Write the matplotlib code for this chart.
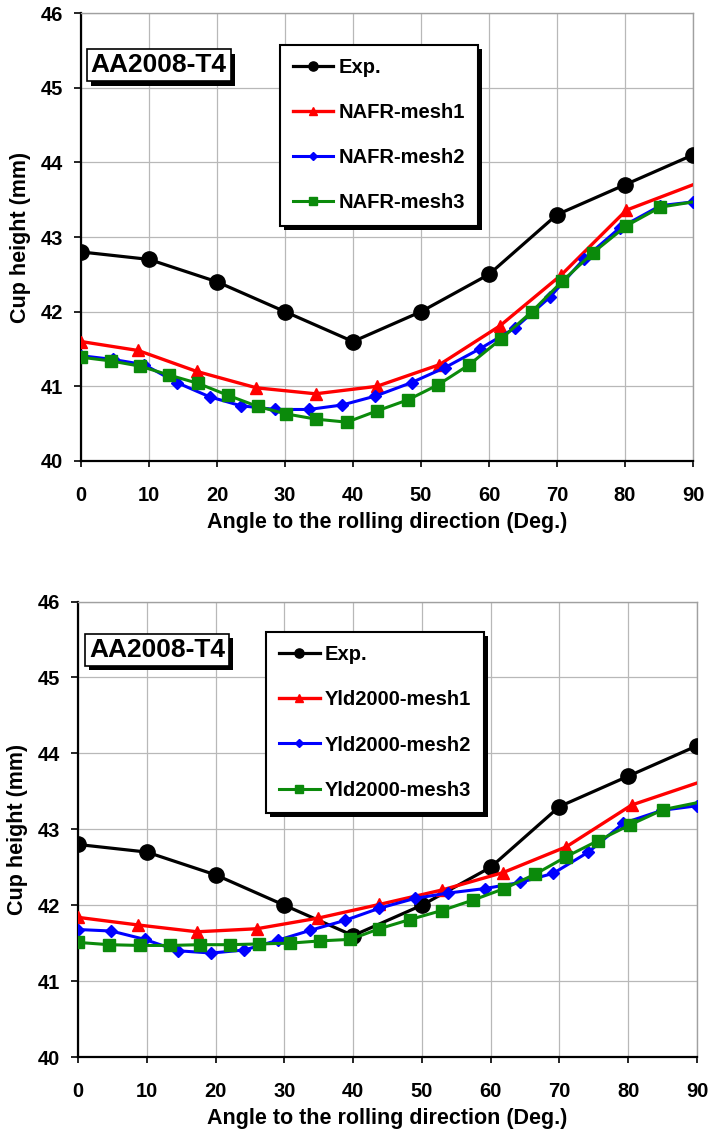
# Cup height vs. angle to the rolling direction, AA2008-T4 (NAFR / Yld2000 meshes)
import matplotlib
matplotlib.use("Agg")
import matplotlib.pyplot as plt
import matplotlib.patheffects as pe

plt.rcParams["font.family"] = ["Liberation Sans", "DejaVu Sans"]
plt.rcParams["font.weight"] = "bold"
plt.rcParams["axes.labelweight"] = "bold"

# ---- data ----
exp_x = [0, 10, 20, 30, 40, 50, 60, 70, 80, 90]
exp_y = [42.8, 42.7, 42.4, 42.0, 41.6, 42.0, 42.5, 43.3, 43.7, 44.1]

nafr1_x = [0, 8.4, 17.0, 25.8, 34.5, 43.5, 52.7, 61.6, 70.6, 80.2, 90]
nafr1_y = [41.6, 41.48, 41.2, 40.98, 40.9, 41.0, 41.29, 41.81, 42.49, 43.36, 43.7]
nafr2_x = [0, 4.7, 9.3, 14.1, 18.9, 23.5, 28.6, 33.5, 38.4, 43.3, 48.6, 53.5,
           58.6, 63.8, 68.9, 74.0, 79.2, 85.2, 90]
nafr2_y = [41.41, 41.36, 41.29, 41.05, 40.86, 40.74, 40.69, 40.69, 40.75, 40.87,
           41.05, 41.25, 41.5, 41.78, 42.19, 42.71, 43.12, 43.42, 43.47]
nafr3_x = [0, 4.4, 8.7, 13.0, 17.2, 21.6, 26.0, 30.2, 34.6, 39.1, 43.5, 48.1,
           52.5, 57.1, 61.7, 66.3, 70.8, 75.3, 80.2, 85.2, 90]
nafr3_y = [41.39, 41.34, 41.27, 41.15, 41.04, 40.88, 40.73, 40.63, 40.56, 40.52,
           40.67, 40.82, 41.02, 41.29, 41.63, 42.0, 42.41, 42.79, 43.15, 43.4, 43.47]

yld1_x = [0, 8.7, 17.3, 26.0, 34.9, 43.8, 52.9, 61.8, 71.0, 80.5, 90]
yld1_y = [41.84, 41.74, 41.65, 41.69, 41.83, 42.01, 42.2, 42.43, 42.77, 43.32, 43.61]
yld2_x = [0, 4.85, 9.7, 14.5, 19.4, 24.2, 29.1, 33.8, 38.8, 43.8, 49.0, 53.8,
          59.2, 64.3, 69.1, 74.2, 79.3, 84.9, 90]
yld2_y = [41.68, 41.66, 41.55, 41.40, 41.37, 41.41, 41.54, 41.67, 41.80, 41.96,
          42.09, 42.16, 42.22, 42.30, 42.42, 42.70, 43.08, 43.25, 43.31]
yld3_x = [0, 4.5, 9.0, 13.3, 17.7, 22.1, 26.3, 30.8, 35.2, 39.6, 43.8, 48.2,
          52.9, 57.5, 62.0, 66.5, 71.0, 75.6, 80.3, 85.1, 90]
yld3_y = [41.51, 41.48, 41.47, 41.47, 41.48, 41.48, 41.49, 41.50, 41.53, 41.55,
          41.69, 41.81, 41.93, 42.07, 42.22, 42.41, 42.64, 42.85, 43.06, 43.26, 43.35]

x_ticks = list(range(0, 91, 10))
y_ticks = list(range(40, 47))
material = "AA2008-T4"
xlabel = "Angle to the rolling direction (Deg.)"
ylabel = "Cup height (mm)"

RED, BLUE, GREEN = "#ff0000", "#0000ff", "#0b8a0b"

# black drop shadow (offset in points) for the framed boxes
drop_shadow = [pe.SimplePatchShadow(offset=(3, -3), shadow_rgbFace="black",
                                    alpha=1.0), pe.Normal()]


def panel(fig, rect, series, leg_anchor, tag_pos):
    ax = fig.add_axes(rect)
    ax.plot(exp_x, exp_y, color="black", lw=2.3, marker="o", ms=11,
            label="Exp.", zorder=3)
    (x1, y1, l1), (x2, y2, l2), (x3, y3, l3) = series
    ax.plot(x1, y1, color=RED, lw=2.4, marker="^", ms=9,
            markevery=slice(0, len(x1) - 1), label=l1, zorder=4)
    ax.plot(x2, y2, color=BLUE, lw=2.2, marker="D", ms=6.5,
            label=l2, zorder=5)
    ax.plot(x3, y3, color=GREEN, lw=2.2, marker="s", ms=9,
            markevery=slice(0, len(x3) - 1), label=l3, zorder=6)

    ax.set_xlim(0, 90)
    ax.set_ylim(40, 46)
    ax.set_xticks(x_ticks)
    ax.set_yticks(y_ticks)
    ax.grid(True, color="#b8b8b8", lw=0.9)
    ax.set_axisbelow(True)
    for s in ("left", "bottom"):
        ax.spines[s].set_color("black")
        ax.spines[s].set_linewidth(1.6)
    for s in ("top", "right"):
        ax.spines[s].set_color("#a0a0a0")
        ax.spines[s].set_linewidth(1.0)
    ax.tick_params(axis="x", direction="out", length=4, width=1.2, pad=14,
                   labelsize=14.5)
    ax.tick_params(axis="y", direction="out", length=5, width=1.2, pad=8,
                   labelsize=14.5)
    ax.set_xlabel(xlabel, fontsize=15.5, labelpad=5)
    ax.set_ylabel(ylabel, fontsize=15.5, labelpad=7)

    leg = ax.legend(loc="upper left", bbox_to_anchor=leg_anchor, borderaxespad=0,
                    fontsize=14.5, frameon=True, fancybox=False, shadow=False,
                    edgecolor="black", framealpha=1, markerscale=0.6,
                    handlelength=2.0, handletextpad=0.25, labelspacing=1.3,
                    borderpad=0.65)
    leg.get_frame().set_linewidth(1.5)
    leg.get_frame().set_path_effects(drop_shadow)
    leg.set_zorder(10)

    # material tag in a framed box with a black drop shadow
    tag = ax.text(*tag_pos, material, transform=ax.transAxes, ha="center",
                  va="center", fontsize=19, color="black", zorder=9,
                  bbox=dict(boxstyle="square,pad=0.15", fc="white",
                            ec="black", lw=1.2))
    tag.get_bbox_patch().set_path_effects(drop_shadow)
    return ax


fig = plt.figure(figsize=(7.10, 11.31), dpi=100)
panel(fig, [0.1141, 0.5924, 0.862, 0.3961],
      [(nafr1_x, nafr1_y, "NAFR-mesh1"),
       (nafr2_x, nafr2_y, "NAFR-mesh2"),
       (nafr3_x, nafr3_y, "NAFR-mesh3")],
      (0.325, 0.929), (0.127, 0.883))
panel(fig, [0.1099, 0.0654, 0.8718, 0.4027],
      [(yld1_x, yld1_y, "Yld2000-mesh1"),
       (yld2_x, yld2_y, "Yld2000-mesh2"),
       (yld3_x, yld3_y, "Yld2000-mesh3")],
      (0.304, 0.933), (0.128, 0.894))

fig.savefig("out.png", dpi=100, facecolor="white")
